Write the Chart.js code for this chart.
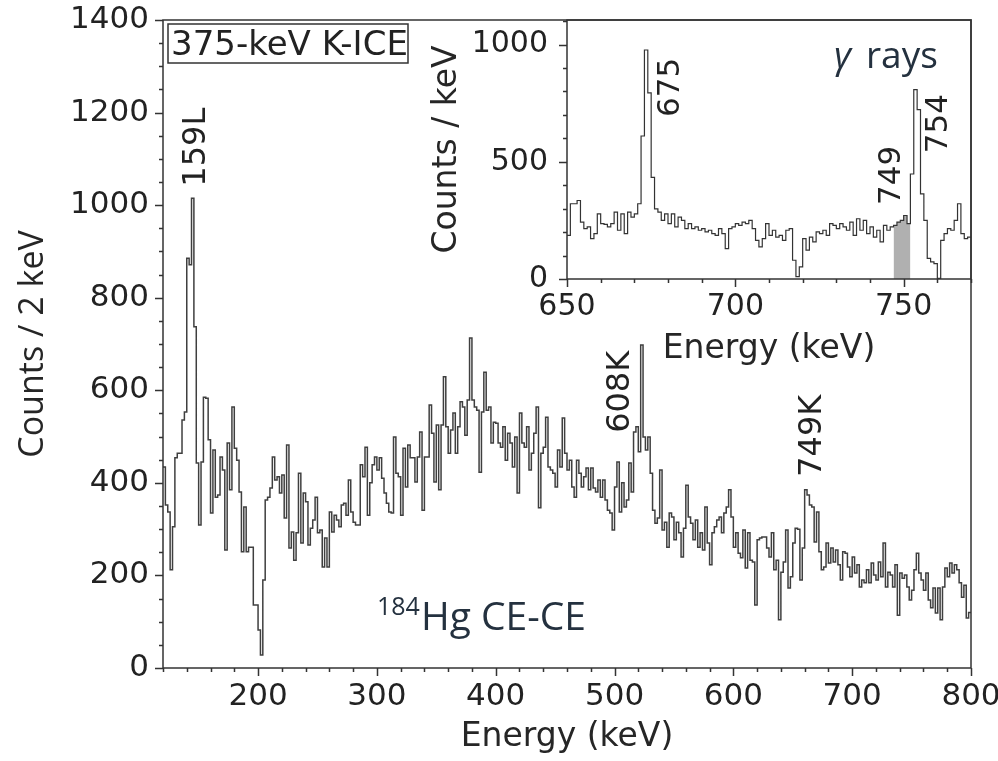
<!DOCTYPE html>
<html>
<head>
<meta charset="utf-8">
<script src="https://cdn.jsdelivr.net/npm/chart.js@4.4.0/dist/chart.umd.min.js"></script>
<style>
  body { margin: 0; background: #fff; }
  #wrap { position: relative; width: 998px; height: 761px; }
  #wrap canvas { position: absolute; left: 0; top: 0; }
</style>
</head>
<body>
<div id="wrap">
  <canvas id="mainChart" width="998" height="761"></canvas>
  <canvas id="insetChart" width="998" height="761"></canvas>
</div>
<script>
'use strict';

// CE-CE spectrum, 2 keV bins from 120 keV
var ceStart = 120;
var ceBin = 2;
// 120 - 320 keV
var ceCountsLow = [
	434, 352, 337, 212, 305, 454, 464, 464, 536, 553,
	885, 871, 1015, 737, 443, 309, 445, 585, 583, 493,
	335, 471, 369, 374, 456, 428, 255, 486, 385, 564,
	475, 449, 380, 251, 348, 251, 261, 261, 136, 136,
	82, 28, 190, 363, 369, 389, 456, 406, 413, 378,
	417, 324, 482, 259, 294, 233, 292, 421, 270, 378,
	359, 266, 302, 320, 369, 292, 298, 218, 281, 218,
	337, 294, 330, 320, 305, 352, 356, 330, 406, 337,
	315, 309, 309, 439, 413, 477, 330, 400, 439, 456,
	428, 454, 410, 378, 356, 337, 335, 499, 421, 413
];
// 320 - 520 keV
var ceCountsMid = [
	330, 475, 391, 482, 454, 454, 402, 456, 510, 341,
	456, 456, 568, 507, 402, 525, 385, 525, 629, 521,
	464, 514, 551, 464, 521, 575, 564, 503, 579, 713,
	579, 564, 557, 423, 553, 639, 557, 564, 486, 531,
	529, 486, 477, 521, 449, 507, 486, 434, 499, 378,
	551, 486, 477, 521, 428, 464, 507, 564, 346, 464,
	477, 542, 434, 428, 421, 391, 471, 434, 540, 464,
	428, 449, 391, 369, 449, 421, 391, 413, 432, 385,
	432, 389, 380, 406, 369, 406, 363, 341, 335, 298,
	391, 445, 337, 400, 348, 363, 443, 380, 510, 521
];
// 520 - 800 keV
var ceCountsHigh = [
	467, 698, 499, 471, 499, 421, 341, 313, 324, 428,
	298, 315, 261, 335, 326, 277, 315, 292, 240, 302,
	395, 326, 313, 277, 320, 261, 292, 255, 348, 270,
	223, 292, 305, 320, 326, 292, 335, 348, 385, 326,
	261, 292, 248, 238, 298, 216, 292, 233, 229, 136,
	277, 281, 283, 283, 259, 240, 292, 212, 233, 104,
	207, 229, 298, 173, 197, 270, 302, 300, 190, 259,
	385, 374, 352, 348, 272, 337, 251, 212, 218, 270,
	227, 259, 229, 255, 223, 190, 251, 248, 218, 197,
	240, 205, 223, 175, 190, 184, 212, 184, 227, 201,
	190, 229, 197, 270, 175, 207, 201, 175, 223, 114,
	205, 194, 201, 175, 147, 168, 212, 248, 205, 190,
	168, 205, 147, 130, 173, 119, 173, 104, 175, 216,
	197, 227, 205, 223, 212, 184, 153, 179, 108, 120
];

// gamma-ray inset, 1 keV bins from 650 keV
var gammaStart = 650;
var gammaBin = 1;
var gammaCounts = [
	186, 321, 321, 335, 243, 215, 222, 172, 194, 278,
	236, 233, 222, 236, 285, 208, 278, 194, 285, 264,
	278, 321, 610, 977, 794, 434, 299, 285, 250, 278,
	236, 278, 222, 264, 250, 215, 236, 215, 222, 208,
	215, 201, 208, 194, 186, 215, 194, 130, 215, 222,
	236, 229, 243, 236, 250, 215, 165, 137, 172, 236,
	186, 208, 179, 186, 165, 208, 215, 80, 10, 52,
	172, 123, 179, 158, 201, 194, 208, 186, 236, 229,
	215, 236, 222, 208, 243, 186, 257, 208, 250, 194,
	222, 179, 208, 158, 229, 208, 222, 229, 243, 250,
	271, 236, 448, 808, 723, 363, 250, 88, 73, 66,
	3, 165, 194, 215, 208, 250, 321, 194, 172, 179
];
var gammaGate = [747, 752];

var mainXTicks = [200, 300, 400, 500, 600, 700, 800];
var mainYTicks = [0, 200, 400, 600, 800, 1000, 1200, 1400];
var insetXTicks = [650, 700, 750];
var insetYTicks = [0, 500, 1000];

// peak labels, placed at (energy, counts) of the text's lower end
var ceLabels = [['159L', 148, 1040], ['608K', 505, 508], ['749K', 667, 413]];
var gammaLabels = [['675', 681, 691], ['749', 746.4, 316], ['754', 760.4, 537]];

Chart.defaults.font.family = "'DejaVu Sans'";
Chart.defaults.color = '#222';

var toSteps = function(counts, start, width) {
	var pts = counts.map(function(c, i) {
		return {x: start + i * width, y: c};
	});
	pts.push({x: start + counts.length * width, y: counts[counts.length - 1]});
	return pts;
};

var fixedTicks = function(list) {
	return function(scale) {
		scale.ticks = list.map(function(v) { return {value: v}; });
	};
};

var plainLabel = function(v) {
	return String(v);
};

// box around the plot area plus matplotlib-like major/minor ticks
var frameTicks = {
	id: 'frameTicks',
	afterDraw: function(chart, args, opts) {
		var ctx = chart.ctx;
		var a = chart.chartArea;
		var sx = chart.scales.x;
		var sy = chart.scales.y;
		var v, p;
		ctx.save();
		ctx.strokeStyle = '#333';
		ctx.lineWidth = 1.5;
		ctx.strokeRect(a.left, a.top, a.right - a.left, a.bottom - a.top);
		ctx.beginPath();
		for (v = Math.ceil(sx.min / opts.xMinor) * opts.xMinor; v <= sx.max; v += opts.xMinor) {
			p = Math.round(sx.getPixelForValue(v)) + 0.5;
			ctx.moveTo(p, a.bottom);
			ctx.lineTo(p, a.bottom + (v % opts.xMajor === 0 ? 8 : 4));
		}
		for (v = 0; v <= sy.max; v += opts.yMinor) {
			p = Math.round(sy.getPixelForValue(v)) + 0.5;
			ctx.moveTo(a.left, p);
			ctx.lineTo(a.left - (v % opts.yMajor === 0 ? 8 : 4), p);
		}
		ctx.stroke();
		ctx.restore();
	}
};

var peakLabels = {
	id: 'peakLabels',
	afterDraw: function(chart, args, opts) {
		var ctx = chart.ctx;
		ctx.save();
		ctx.fillStyle = '#222';
		ctx.font = opts.size + "px 'DejaVu Sans'";
		ctx.textAlign = 'left';
		ctx.textBaseline = 'middle';
		opts.labels.forEach(function(l) {
			ctx.save();
			ctx.translate(chart.scales.x.getPixelForValue(l[1]), chart.scales.y.getPixelForValue(l[2]));
			ctx.rotate(-Math.PI / 2);
			ctx.fillText(l[0], 0, 0);
			ctx.restore();
		});
		if (opts.extra) {
			opts.extra(ctx, chart.chartArea);
		}
		ctx.restore();
	}
};

var ceExtra = function(ctx, a) {
	// gate box, top left
	ctx.font = "34px 'DejaVu Sans'";
	ctx.textBaseline = 'alphabetic';
	ctx.fillText('375-keV K-ICE', a.left + 8, a.top + 35);
	ctx.strokeStyle = '#333';
	ctx.lineWidth = 1.5;
	ctx.strokeRect(a.left + 5, a.top + 4, 240, 39);
	// nucleus / mode
	ctx.fillStyle = '#24313f';
	ctx.font = "25px 'Open Sans'";
	ctx.fillText('184', 377, 615);
	var w = ctx.measureText('184').width;
	ctx.font = "39px 'Open Sans'";
	ctx.fillText('Hg CE-CE', 377 + w + 1, 630);
};

var gammaExtra = function(ctx, a) {
	ctx.fillStyle = '#24313f';
	ctx.textBaseline = 'alphabetic';
	ctx.font = "italic 37px 'Open Sans'";
	ctx.fillText('\u03b3', 834, 68);
	ctx.font = "37px 'Open Sans'";
	ctx.fillText('rays', 866, 68);
};

var axisTitle = function(text, family, size, pad) {
	return {display: true, text: text, color: '#262626', padding: pad,
		font: {family: family, size: size, lineHeight: 1.2}};
};

new Chart(document.getElementById('mainChart'), {
	type: 'line',
	data: {
		datasets: [{
			data: toSteps(ceCountsLow.concat(ceCountsMid, ceCountsHigh), ceStart, ceBin),
			stepped: true,
			borderColor: '#3f3f3f',
			borderWidth: 1.5,
			pointRadius: 0,
			fill: false
		}]
	},
	options: {
		responsive: false,
		animation: false,
		layout: {padding: {left: 0, top: 20, right: 27, bottom: 0}},
		plugins: {
			legend: {display: false},
			tooltip: {enabled: false},
			frameTicks: {xMinor: 20, xMajor: 100, yMinor: 50, yMajor: 200},
			peakLabels: {labels: ceLabels, size: 32, extra: ceExtra}
		},
		scales: {
			x: {
				type: 'linear',
				min: 120,
				max: 800,
				afterBuildTicks: fixedTicks(mainXTicks),
				afterFit: function(s) { s.height = 93; s.paddingLeft = 0; s.paddingRight = 0; },
				grid: {display: false, drawTicks: false},
				border: {display: false},
				ticks: {padding: 10, maxRotation: 0, callback: plainLabel, font: {size: 31, lineHeight: 1.2}},
				title: axisTitle('Energy (keV)', "'DejaVu Sans'", 33, {top: 0, bottom: 4})
			},
			y: {
				min: 0,
				max: 1400,
				afterBuildTicks: fixedTicks(mainYTicks),
				afterFit: function(s) { s.width = 163; s.paddingTop = 0; s.paddingBottom = 0; },
				grid: {display: false, drawTicks: false},
				border: {display: false},
				ticks: {padding: 14, callback: plainLabel, font: {size: 31, lineHeight: 1.2}},
				title: axisTitle('Counts / 2 keV', "'Open Sans'", 34, {top: 13, bottom: 0})
			}
		}
	},
	plugins: [frameTicks, peakLabels]
});

var gateStart = gammaGate[0] - gammaStart;
var gateEnd = gammaGate[1] - gammaStart;

new Chart(document.getElementById('insetChart'), {
	type: 'line',
	data: {
		datasets: [{
			data: toSteps(gammaCounts, gammaStart, gammaBin),
			stepped: true,
			borderColor: '#333',
			borderWidth: 1.2,
			pointRadius: 0,
			fill: false
		}, {
			data: toSteps(gammaCounts.slice(gateStart, gateEnd), gammaGate[0], gammaBin),
			stepped: true,
			borderWidth: 0,
			borderColor: 'rgba(0,0,0,0)',
			backgroundColor: '#b0b0b0',
			pointRadius: 0,
			fill: 'origin'
		}]
	},
	options: {
		responsive: false,
		animation: false,
		layout: {padding: {left: 420, top: 20, right: 27, bottom: 382}},
		plugins: {
			legend: {display: false},
			tooltip: {enabled: false},
			frameTicks: {xMinor: 10, xMajor: 50, yMinor: 100, yMajor: 500},
			peakLabels: {labels: gammaLabels, size: 31, extra: gammaExtra}
		},
		scales: {
			x: {
				type: 'linear',
				min: 650,
				max: 770,
				afterBuildTicks: fixedTicks(insetXTicks),
				afterFit: function(s) { s.height = 100; s.paddingLeft = 0; s.paddingRight = 0; },
				grid: {display: false, drawTicks: false},
				border: {display: false},
				ticks: {padding: 10, maxRotation: 0, callback: plainLabel, font: {size: 30, lineHeight: 1.2}},
				title: axisTitle('Energy (keV)', "'DejaVu Sans'", 33, {top: 0, bottom: 10})
			},
			y: {
				min: 0,
				max: 1105,
				afterBuildTicks: fixedTicks(insetYTicks),
				afterFit: function(s) { s.width = 147; s.paddingTop = 0; s.paddingBottom = 0; },
				grid: {display: false, drawTicks: false},
				border: {display: false},
				ticks: {padding: 19, callback: plainLabel, font: {size: 30, lineHeight: 1.2}},
				title: axisTitle('Counts / keV', "'DejaVu Sans'", 33, {top: 8, bottom: 0})
			}
		}
	},
	plugins: [frameTicks, peakLabels]
});
</script>
</body>
</html>
